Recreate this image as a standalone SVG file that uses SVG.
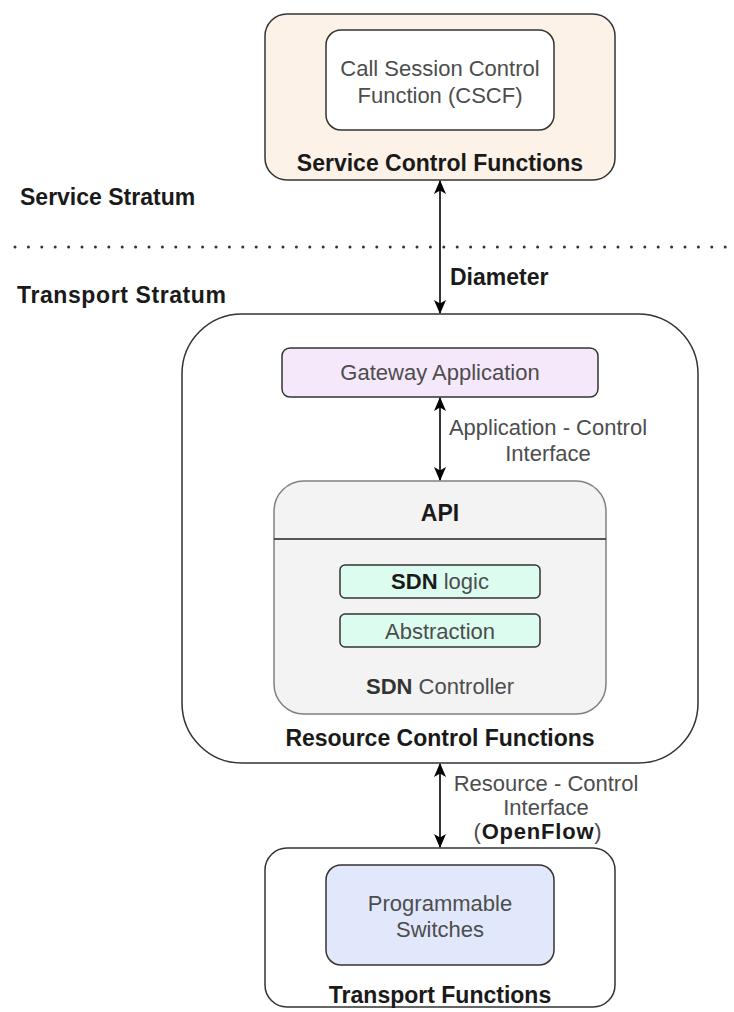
<svg xmlns="http://www.w3.org/2000/svg" width="734" height="1012" viewBox="0 0 734 1012">
<style>
text { font-family: "Liberation Sans", Arial, Helvetica, sans-serif; }
.lbl { font-size: 22px; fill: #4d4d4d; text-anchor: middle; }
.bold { font-size: 23px; font-weight: bold; fill: #1a1a1a; }
.mid { text-anchor: middle; }
.box { stroke: #333333; stroke-width: 1.5; }
.conn { stroke: #000000; stroke-width: 1.6; fill: none; }
</style>
<defs>
<marker id="arr" viewBox="0 0 14 12" refX="13" refY="6" markerWidth="14" markerHeight="12" markerUnits="userSpaceOnUse" orient="auto-start-reverse">
<path d="M0,0 L14,6 L0,12 L3.5,6 Z" fill="#000000"/>
</marker>
</defs>
<rect width="734" height="1012" fill="#ffffff"/>

<g id="service-control">
<rect class="box" x="265" y="14" width="350" height="166" rx="22" fill="#fdf2e8"/>
<text class="bold mid" x="440" y="171">Service Control Functions</text>
</g>
<g id="cscf">
<rect class="box" x="326" y="30" width="228" height="100" rx="15" fill="#ffffff"/>
<text class="lbl" x="440" y="76">Call Session Control</text>
<text class="lbl" x="440" y="103">Function (CSCF)</text>
</g>

<g id="strata">
<text class="bold" x="20" y="205">Service Stratum</text>
<line x1="15" y1="247" x2="728" y2="247" stroke="#333333" stroke-width="3" stroke-linecap="round" stroke-dasharray="0 13.4"/>
<text class="bold" x="17" y="303" font-size="24" letter-spacing="0.6">Transport Stratum</text>
</g>

<g id="resource-control">
<rect class="box" x="182" y="314" width="516" height="449" rx="60" fill="#ffffff"/>
<text class="bold mid" x="440" y="746">Resource Control Functions</text>
</g>
<g id="gateway">
<rect class="box" x="282" y="348" width="316" height="49" rx="8" fill="#f6e8fb"/>
<text class="lbl" x="440" y="380" font-size="23">Gateway Application</text>
</g>
<g id="sdn-controller">
<rect x="274" y="481" width="332" height="233" rx="30" fill="#f3f3f3" stroke="#808080" stroke-width="1.5"/>
<line x1="274" y1="539" x2="606" y2="539" stroke="#222222" stroke-width="1.5"/>
<text class="bold mid" x="440" y="521">API</text>
<text class="lbl" x="440" y="694" font-size="23" fill="#666666"><tspan font-weight="bold" fill="#333333">SDN</tspan> Controller</text>
</g>
<g id="sdn-logic">
<rect class="box" x="340" y="565" width="200" height="33" rx="5" fill="#dcfcf0"/>
<text class="lbl" x="440" y="589"><tspan font-weight="bold" fill="#1a1a1a">SDN</tspan> logic</text>
</g>
<g id="abstraction">
<rect class="box" x="340" y="614" width="200" height="33" rx="5" fill="#dcfcf0"/>
<text class="lbl" x="440" y="639">Abstraction</text>
</g>

<g id="transport">
<rect class="box" x="265" y="848" width="350" height="159" rx="22" fill="#ffffff"/>
<text class="bold mid" x="440" y="1003">Transport Functions</text>
</g>
<g id="switches">
<rect class="box" x="326" y="865" width="228" height="100" rx="15" fill="#e1e8fb"/>
<text class="lbl" x="440" y="911">Programmable</text>
<text class="lbl" x="440" y="937">Switches</text>
</g>

<g id="connectors">
<line class="conn" x1="440" y1="181" x2="440" y2="313" marker-start="url(#arr)" marker-end="url(#arr)"/>
<text class="bold" x="450" y="285">Diameter</text>
<line class="conn" x1="440" y1="398" x2="440" y2="480" marker-start="url(#arr)" marker-end="url(#arr)"/>
<text class="lbl" x="548" y="435">Application - Control</text>
<text class="lbl" x="548" y="461">Interface</text>
<line class="conn" x1="440" y1="764" x2="440" y2="847" marker-start="url(#arr)" marker-end="url(#arr)"/>
<text class="lbl" x="546" y="791" font-size="21">Resource - Control</text>
<text class="lbl" x="546" y="815" font-size="21">Interface</text>
<text class="lbl" x="538" y="839" font-size="22" letter-spacing="0.8">(<tspan font-weight="bold" fill="#1a1a1a">OpenFlow</tspan>)</text>
</g>
</svg>
